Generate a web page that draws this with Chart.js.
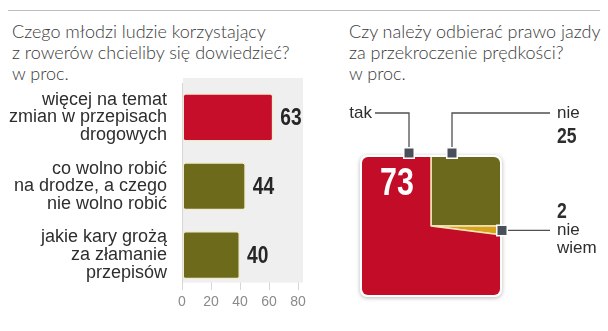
<!DOCTYPE html>
<html lang="pl">
  <head>
    <meta charset="UTF-8" />
    <title>Rowerzyści i przepisy</title>
    <style>
      html,
      body {
        margin: 0;
        padding: 0;
        background: #fff;
      }
      .page {
        position: relative;
        width: 608px;
        height: 331px;
        overflow: hidden;
      }
      .rule {
        position: absolute;
        top: 10px;
        left: 8px;
        width: 592px;
        height: 1px;
        background: #bdbdbd;
      }
      .title {
        position: absolute;
        top: 21px;
        font-family: "Lato", "Liberation Sans", sans-serif;
        font-weight: 300;
        font-size: 18px;
        line-height: 21px;
        color: #3a3a3a;
        white-space: nowrap;
      }
      .title--left {
        left: 12px;
      }
      .title--right {
        left: 349px;
      }
      .chart {
        position: absolute;
        top: 0;
        height: 331px;
      }
      .chart--bars {
        left: 0;
        width: 310px;
      }
      .chart--square {
        left: 310px;
        width: 298px;
      }
    </style>
  </head>
  <body>
    <div class="page">
      <div class="rule"></div>
      <div class="title title--left">
        Czego młodzi ludzie korzystający<br />z rowerów chcieliby się dowiedzieć?<br />w proc.
      </div>
      <div class="title title--right">
        Czy należy odbierać prawo jazdy<br />za przekroczenie prędkości?<br />w proc.
      </div>
      <div class="chart chart--bars"><canvas id="barChart"></canvas></div>
      <div class="chart chart--square"><canvas id="squareChart"></canvas></div>
    </div>

    <script src="https://cdn.jsdelivr.net/npm/chart.js"></script>
    <script>
      // what young cyclists want to learn about
      const topics = [
        ["więcej na temat", "zmian w przepisach", "drogowych"],
        ["co wolno robić", "na drodze, a czego", "nie wolno robić"],
        ["jakie kary grożą", "za złamanie", "przepisów"],
      ];
      const topicValues = [63, 44, 40];
      const topicColors = ["#c60d2a", "#6d6a1b", "#6d6a1b"];
      const axisTicks = [0, 20, 40, 60, 80];

      // should speeding cost the driving licence
      const answers = ["nie", "nie wiem", "tak"];
      const answerValues = [25, 2, 73];
      const answerColors = ["#6c691d", "#d7a21c", "#c30c27"];

      const labelFont = '"Liberation Sans", Arial, sans-serif';
      const numberFont = '"Liberation Sans", Arial, sans-serif';

      Chart.defaults.font.family = labelFont;
      Chart.defaults.animation = false;

      // bold figures squeezed horizontally, like a condensed face
      function condensedText(ctx, text, x, y, size, align) {
        const squeeze = 0.8;
        ctx.save();
        ctx.font = "bold " + size + "px " + numberFont;
        ctx.textAlign = align || "left";
        ctx.textBaseline = "middle";
        ctx.translate(x, y);
        ctx.scale(squeeze, 1);
        ctx.fillText(text, 0, 0);
        ctx.restore();
      }

      const valueLabels = {
        id: "valueLabels",
        beforeDatasetsDraw(chart) {
          const { ctx, chartArea } = chart;
          ctx.save();
          ctx.fillStyle = "#efefef";
          ctx.fillRect(chartArea.left + 1, chartArea.top - 5, chartArea.width + 4, chartArea.height - 2);
          ctx.restore();
        },
        afterDatasetsDraw(chart) {
          const { ctx } = chart;
          const meta = chart.getDatasetMeta(0);
          ctx.fillStyle = "#262626";
          meta.data.forEach((bar, i) => {
            condensedText(ctx, String(topicValues[i]), bar.x + 7, bar.y + 1, 24);
          });
        },
      };

      new Chart(document.getElementById("barChart"), {
        type: "bar",
        data: {
          labels: topics,
          datasets: [
            {
              data: topicValues,
              backgroundColor: topicColors,
              borderColor: "#f1ebcf",
              borderWidth: 1.5,
              borderRadius: 3,
              borderSkipped: false,
              barPercentage: 0.7,
              categoryPercentage: 1,
            },
          ],
        },
        options: {
          indexAxis: "y",
          responsive: true,
          maintainAspectRatio: false,
          layout: { padding: { top: 83, right: 12, left: 0, bottom: 0 } },
          scales: {
            x: {
              min: axisTicks[0],
              max: axisTicks[axisTicks.length - 1],
              afterBuildTicks(scale) {
                scale.ticks = axisTicks.map((v) => ({ value: v }));
              },
              afterFit(scale) {
                scale.height = 31;
              },
              border: { display: false },
              grid: { color: "#d6d6d6", drawTicks: false },
              ticks: {
                color: "#8a8a8a",
                padding: 4,
                font: { size: 14 },
              },
            },
            y: {
              afterFit(scale) {
                scale.width = 182;
              },
              border: { display: false },
              grid: { display: false, drawTicks: false },
              ticks: {
                color: "#2e2e2e",
                padding: 15,
                font: { size: 18, lineHeight: 0.98 },
              },
            },
          },
          plugins: {
            legend: { display: false },
            tooltip: { enabled: false },
          },
        },
        plugins: [valueLabels],
      });

      // square frame, slices clipped to it, leader lines and captions
      const HALF = 71;
      function roundedSquare(ctx, cx, cy, half, r) {
        ctx.beginPath();
        ctx.roundRect(cx - half, cy - half, half * 2, half * 2, r);
      }

      const squareFrame = {
        id: "squareFrame",
        beforeDatasetsDraw(chart) {
          const { ctx, chartArea } = chart;
          const cx = (chartArea.left + chartArea.right) / 2;
          const cy = (chartArea.top + chartArea.bottom) / 2;
          ctx.save();
          ctx.shadowColor = "rgba(0,0,0,0.28)";
          ctx.shadowBlur = 4;
          ctx.shadowOffsetY = 1;
          ctx.fillStyle = "#fff";
          roundedSquare(ctx, cx, cy, HALF, 7);
          ctx.fill();
          ctx.restore();
          ctx.save();
          roundedSquare(ctx, cx, cy, HALF - 2, 6);
          ctx.clip();
        },
        afterDatasetsDraw(chart) {
          const { ctx, chartArea } = chart;
          ctx.restore();
          const cx = (chartArea.left + chartArea.right) / 2;
          const cy = (chartArea.top + chartArea.bottom) / 2;
          const top = cy - HALF;
          const right = cx + HALF;
          const lineY = top - 42;
          const textX = right + 55;

          // angle through the middle of the "nie wiem" slice
          const arc = chart.getDatasetMeta(0).data[1];
          const mid = (arc.startAngle + arc.endAngle) / 2;
          const smallY = cy + HALF * Math.tan(mid);

          ctx.save();
          ctx.strokeStyle = "#505050";
          ctx.lineWidth = 1.3;
          ctx.beginPath();
          ctx.moveTo(cx - 56, lineY);
          ctx.lineTo(cx - 22, lineY);
          ctx.lineTo(cx - 22, top);
          ctx.moveTo(cx + 21, top);
          ctx.lineTo(cx + 21, lineY);
          ctx.lineTo(textX - 7, lineY);
          ctx.moveTo(right, smallY);
          ctx.lineTo(textX - 7, smallY);
          ctx.stroke();

          const markers = [
            [cx - 22, top - 2],
            [cx + 21, top - 2],
            [right, smallY],
          ];
          markers.forEach(([x, y]) => {
            ctx.fillStyle = "#fff";
            ctx.fillRect(x - 6, y - 6, 12, 12);
            ctx.fillStyle = "#4a5059";
            ctx.fillRect(x - 4.5, y - 4.5, 9, 9);
          });

          ctx.fillStyle = "#2e2e2e";
          ctx.textBaseline = "middle";
          ctx.font = "17px " + labelFont;
          ctx.textAlign = "right";
          ctx.fillText(answers[2], cx - 59, lineY);
          ctx.textAlign = "left";
          ctx.fillText(answers[0], textX, lineY);
          ctx.fillText("nie", textX, smallY);
          ctx.fillText("wiem", textX, smallY + 18);
          condensedText(ctx, String(answerValues[0]), textX, lineY + 24, 22);
          condensedText(ctx, String(answerValues[1]), textX, smallY - 19, 22);

          ctx.fillStyle = "#fff";
          condensedText(ctx, String(answerValues[2]), cx - 51, cy - 41, 38);
          ctx.restore();
        },
      };

      new Chart(document.getElementById("squareChart"), {
        type: "pie",
        data: {
          labels: answers,
          datasets: [
            {
              data: answerValues,
              backgroundColor: answerColors,
              borderColor: "#f3e8b8",
              borderWidth: 1.5,
            },
          ],
        },
        options: {
          responsive: true,
          maintainAspectRatio: false,
          layout: { padding: { top: 121, right: 72, left: 16, bottom: 0 } },
          plugins: {
            legend: { display: false },
            tooltip: { enabled: false },
          },
        },
        plugins: [squareFrame],
      });
    </script>
  </body>
</html>
